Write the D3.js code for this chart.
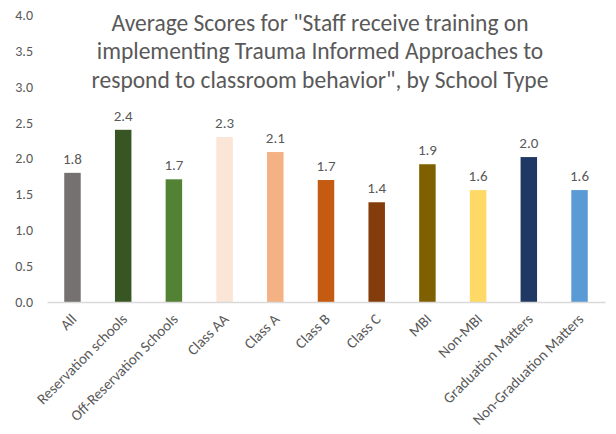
<!DOCTYPE html>
<html>
<head>
<meta charset="utf-8">
<script src="https://cdn.jsdelivr.net/npm/d3@7"></script>
<style>
  body { margin: 0; background: #fff; }
  text { font-family: Carlito, "Open Sans", sans-serif; }
</style>
</head>
<body>
<div class="chart"></div>
<script>
// data
const categories = ["All", "Reservation schools", "Off-Reservation Schools", "Class AA", "Class A",
  "Class B", "Class C", "MBI", "Non-MBI", "Graduation Matters", "Non-Graduation Matters"];
const scores = [1.8, 2.4, 1.71, 2.3, 2.09, 1.7, 1.39, 1.92, 1.56, 2.02, 1.56];
const colors = ["#757171", "#375623", "#548235", "#fbe5d6", "#f4b183", "#c55a11",
  "#843c0c", "#7f6000", "#ffd966", "#1f3864", "#5b9bd5"];
const yTicks = [0, 0.5, 1, 1.5, 2, 2.5, 3, 3.5, 4];
const titleLines = ['Average Scores for "Staff receive training on',
  'implementing Trauma Informed Approaches to',
  'respond to classroom behavior", by School Type'];

const width = 616, height = 434;
const margin = {top: 15, right: 11, bottom: 132, left: 47};

const svg = d3.select(".chart").append("svg")
    .attr("width", width)
    .attr("height", height);

const x = d3.scaleBand()
    .domain(categories)
    .range([margin.left, width - margin.right])
    .paddingInner(0.675)
    .paddingOuter(0.34);

const y = d3.scaleLinear()
    .domain([0, 4])
    .range([height - margin.bottom, margin.top]);

// y tick labels, no axis line
svg.append("g")
    .attr("transform", `translate(${margin.left},0)`)
    .call(d3.axisLeft(y).tickValues(yTicks).tickFormat(d3.format(".1f")).tickSize(0).tickPadding(14))
    .call(g => g.select(".domain").remove())
    .call(g => g.selectAll("text")
        .attr("fill", "#595959")
        .attr("font-size", 14)
        .attr("font-family", "Carlito, 'Open Sans', sans-serif"));

// bars
svg.append("g")
    .selectAll("rect")
    .data(categories)
    .join("rect")
    .attr("x", d => x(d))
    .attr("y", (d, i) => y(scores[i]))
    .attr("width", x.bandwidth())
    .attr("height", (d, i) => y(0) - y(scores[i]))
    .attr("fill", (d, i) => colors[i]);

// value labels
svg.append("g")
    .selectAll("text")
    .data(categories)
    .join("text")
    .attr("x", d => x(d) + x.bandwidth() / 2)
    .attr("y", (d, i) => y(scores[i]) - 9)
    .attr("text-anchor", "middle")
    .attr("fill", "#595959")
    .attr("font-size", 15)
    .text((d, i) => scores[i].toFixed(1));

// x axis baseline and rotated labels
svg.append("g")
    .attr("transform", `translate(0,${y(0)})`)
    .call(d3.axisBottom(x).tickSize(0).tickPadding(0))
    .call(g => g.select(".domain").attr("stroke", "#d9d9d9").attr("stroke-width", 1.3))
    .call(g => g.selectAll("text")
        .attr("fill", "#595959")
        .attr("font-size", 15)
        .attr("font-family", "Carlito, 'Open Sans', sans-serif")
        .attr("text-anchor", "end")
        .attr("dy", 0)
        .attr("transform", "translate(5,18) rotate(-45)"));

// title
svg.append("g")
    .selectAll("text")
    .data(titleLines)
    .join("text")
    .attr("x", 320)
    .attr("y", (d, i) => 30.5 + i * 28.5)
    .attr("text-anchor", "middle")
    .attr("fill", "#595959")
    .attr("font-size", 23.5)
    .text(d => d);
</script>
</body>
</html>
